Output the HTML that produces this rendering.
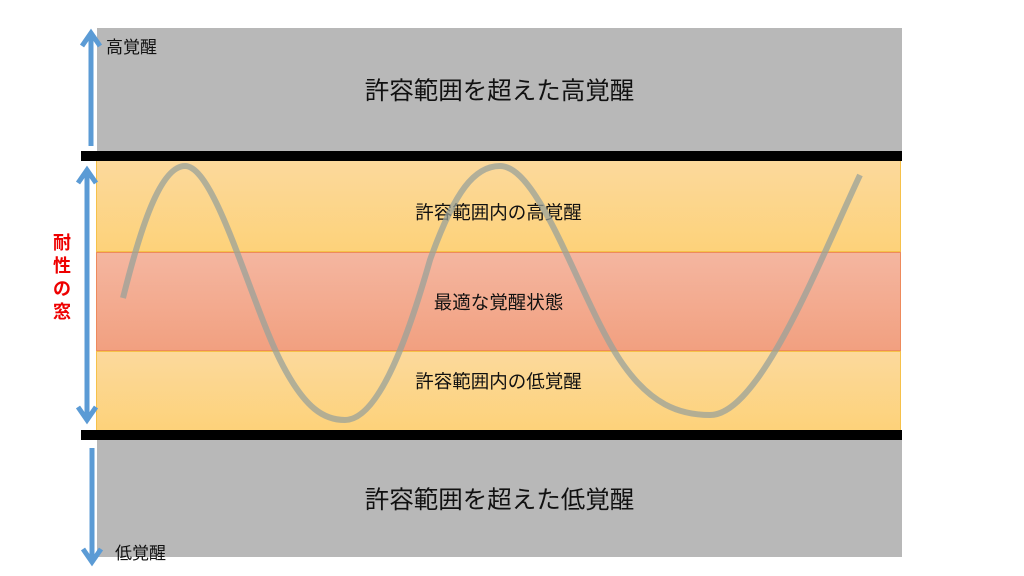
<!DOCTYPE html>
<html><head><meta charset="utf-8"><style>
body{margin:0;width:1024px;height:576px;background:#fff;overflow:hidden;position:relative;font-family:"Liberation Sans","Noto Sans CJK JP",sans-serif}
div{position:absolute}
.t{color:#111;text-align:center}
</style></head><body>
<div style="left:97px;top:28px;width:805px;height:124px;background:#b8b8b8"></div>
<div style="left:97px;top:440px;width:805px;height:117px;background:#b8b8b8"></div>
<div style="left:96px;top:160px;width:805px;height:92px;background:linear-gradient(#fcd99c,#fdd27a);border:1px solid #f6c14a;box-sizing:border-box"></div>
<div style="left:96px;top:252px;width:805px;height:99px;background:linear-gradient(#f4b6a0,#f2a080);border:1px solid #ee8a5c;box-sizing:border-box"></div>
<div style="left:96px;top:351px;width:805px;height:80px;background:linear-gradient(#fcd99c,#fdd27a);border:1px solid #f6c14a;box-sizing:border-box"></div>
<div style="left:81px;top:151px;width:821px;height:10px;background:#000"></div>
<div style="left:81px;top:430px;width:821px;height:10px;background:#000"></div>
<div class="t" style="left:97px;top:72px;width:805px;font-size:24.5px">許容範囲を超えた高覚醒</div>
<div class="t" style="left:97px;top:481px;width:805px;font-size:24.5px">許容範囲を超えた低覚醒</div>
<div class="t" style="left:96px;top:199px;width:805px;font-size:18.5px">許容範囲内の高覚醒</div>
<div class="t" style="left:96px;top:289px;width:805px;font-size:18.5px">最適な覚醒状態</div>
<div class="t" style="left:96px;top:368px;width:805px;font-size:18.5px">許容範囲内の低覚醒</div>
<div style="left:106px;top:33px;font-size:17px;color:#111">高覚醒</div>
<div style="left:115px;top:539px;font-size:17px;color:#111">低覚醒</div>
<div style="left:48px;top:232px;width:28px;font-size:18px;font-weight:bold;color:#e00;line-height:23px;text-align:center">耐<br>性<br>の<br>窓</div>
<svg width="1024" height="576" style="position:absolute;left:0;top:0">
<g stroke="#5b9bd5" stroke-width="5" fill="none">
<line x1="91" y1="34" x2="91" y2="146"/><polyline points="82,46 91,33 100,46"/>
<line x1="87" y1="170" x2="87" y2="420"/><polyline points="78,183 87,170 96,183"/><polyline points="78,407 87,420 96,407"/>
<line x1="92" y1="448" x2="92" y2="562"/><polyline points="83,549 92,562 101,549"/>
</g>
<path d="M123,298 C140,230 160,166 185,166 C215,166 250,300 280,360 C305,410 325,420 345,420 C380,420 410,330 430,260 C455,190 475,166 500,166 C540,166 580,300 620,360 C650,405 680,415 710,415 C760,415 820,260 860,175" stroke="#9aa29a" stroke-opacity="0.75" stroke-width="6" fill="none"/>
</svg>
</body></html>
